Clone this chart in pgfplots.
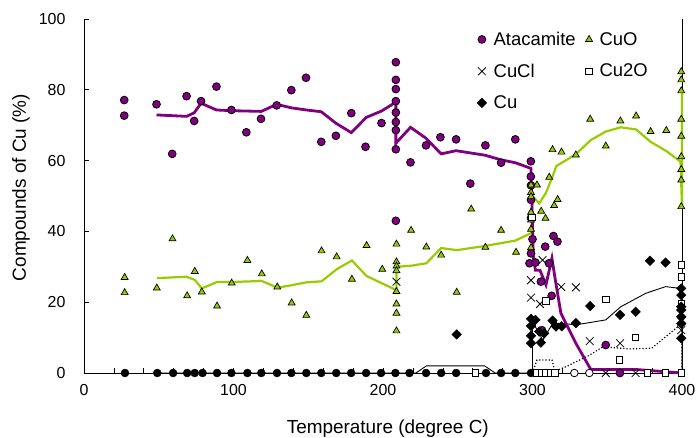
\documentclass[border=0pt]{standalone}
\usepackage{fontspec}
\setmainfont{Liberation Sans}
\usepackage{pgfplots}
\pgfplotsset{compat=1.18}
\definecolor{atac}{HTML}{800080}
\definecolor{cuo}{HTML}{99CC00}
\begin{document}
\begin{tikzpicture}
\path[use as bounding box] (-84bp,-65bp) rectangle (615bp,373bp);
\begin{axis}[
  at={(0,0)}, anchor=south west, scale only axis,
  width=598bp, height=354bp,
  xmin=0, xmax=400, ymin=0, ymax=100,
  axis lines*=left, axis line style={black, line width=0.8bp},
  clip=false,
  xtick={0,100,...,400}, minor xtick={20,40,...,380},
  ytick={0,20,...,100},
  tick align=inside, major tick length=5bp, minor tick length=5bp,
  tick style={black, line width=0.6bp},
  ticklabel style={font=\fontsize{16}{19}\selectfont},
  /pgf/number format/assume math mode=true,
  xticklabel style={yshift=-8bp},
  yticklabel style={xshift=-15bp},
  ylabel={Compounds of Cu (\%)},
  every axis y label/.style={at={(axis description cs:-0.1054,0.524)}, anchor=center, rotate=90, font=\fontsize{19}{22}\selectfont},
  legend columns=2,
  legend cell align=left,
  legend style={at={(axis cs:260.8,97.5)}, anchor=north west, draw=none, fill=none,
    font=\fontsize{18.5}{21}\selectfont, row sep=13bp,
    /tikz/every odd column/.append style={column sep=5bp},
    /tikz/every even column/.append style={column sep=8bp}},
  legend image code/.code={\draw[#1] plot coordinates {(0bp,0bp)};},
]
% zero-row markers (not in legend)
\addplot[only marks, mark=*, mark size=4bp, black, forget plot] coordinates {
(27.4,0)(49,0)(59.6,0)(69,0)(74.1,0)(79.3,0)(89,0)(98.6,0)(109.3,0)(118.6,0)(129.1,0)(138.7,0)(148.7,0)(158.7,0)(168.7,0)(178.7,0)(188.7,0)(198.7,0)(208.3,0)(217.7,0)(228.8,0)(238.9,0)(248.9,0)(268.9,0)(279,0)(288.5,0)(299,0)(309,0)};
\addplot[only marks, mark=*, mark size=3.8bp, mark options={fill=white, draw=black, line width=0.8bp}, forget plot] coordinates {(328,0)(338,0)};
% Atacamite
\addplot[only marks, mark=*, mark size=3.9bp, mark options={fill=atac, draw=black, line width=0.8bp}] coordinates {
(26.9,77.1)(26.9,72.7)(48.5,75.9)(59,61.9)(68.6,78.2)(73.7,71.2)(78.3,76.8)(88.6,80.9)(98.6,74.3)(108.6,68)(118.4,71.8)(128.9,75.6)(138.7,79.9)(148.5,83.4)(158.7,65.3)(168.5,67)(178.8,73.4)(188.3,63.9)(199,70.6)
(208.6,87.8)(208.6,82.8)(208.6,80.2)(208.6,76.8)(208.6,73.6)(208.6,70.9)(208.6,68.6)(208.6,63.2)(208.6,43.0)
(218.4,59.5)(228.8,64.3)(238.4,66.6)(248.9,66)(258.4,53.5)(268.5,64.3)(279,59.4)(288.5,66)(298.9,59.8)(298.9,55.5)(299,53)(299,48.9)(299,43.8)(300,37.8)(299,33.8)(298,31)(302,31.2)(311,31)(305.6,25.8)(312.8,21.8)(306.3,12.1)(308.5,35.7)(314,38.7)(316.7,37.1)(349,7.9)(358.5,0)};
\addlegendentry{Atacamite}
% CuO
\addplot[only marks, mark=triangle*, mark size=4bp, mark options={fill=cuo, draw=black, line width=0.7bp}] coordinates {
(27.2,27)(27.2,22.7)(48.7,24)(59.2,37.9)(69,21.8)(74.1,28.7)(78.8,22.9)(89,18.9)(98.8,25.4)(109.3,31.8)(118.9,28)(129.3,24.3)(138.9,19.8)(148.7,16.3)(158.9,34.5)(169,32.8)(179.2,26.5)(189,36)(199.5,29.3)
(209,36.4)(209,31.4)(209,30.2)(209,28.9)(209,23)(209,19.5)(209,16.9)(209,11.9)
(218.8,40.3)(229,35.6)(238.9,33.3)(249.3,22.8)(259,46.3)(268.5,35.5)(279,40.3)(289,34.1)
(299,53.1)(299,51)(299,49.8)(299,45.4)(299,43.2)(299,40.6)(299,35.4)(303,53.1)(305.8,45.7)(308.7,43.7)(311.2,55.3)(314.5,47.3)(316.8,49)(313.4,63.1)(319.4,62.4)(329,61.6)(338.6,71.7)(349,64.1)(358.8,71.2)(369.3,72.6)(379,68.2)(389.5,68.5)
(399.5,85.1)(399.5,82.8)(399.5,79.7)(399.5,71.7)(399.5,66.9)(399.5,61.1)(399.5,57.5)(399.5,54.5)(399.5,47)};
\addlegendentry{CuO}
% CuCl
\addplot[only marks, mark=x, mark size=5.5bp, mark options={draw=black, line width=0.8bp}] coordinates {
(209,25.8)(299,26.2)(299,21.3)(305,19.5)(306.7,31.9)(319.2,24.3)(329,24.2)(338.3,9)(358.6,8.4)(399.5,12.1)(399.5,14.5)(349,0)(369,0)};
\addlegendentry{CuCl}
% Cu2O
\addplot[only marks, mark=square*, mark size=3.2bp, mark options={fill=white, draw=black, line width=0.8bp}] coordinates {
(299.5,44)(309,20.4)(349,20.8)(369,10.1)(358.3,3.7)(399.5,30.5)(399.5,27.2)(399.5,19.7)(261.8,0)(303,0)(306,0)(309,0)(312,0)(315,0)(377,0)(389,0)(399.5,0)};
\addlegendentry{Cu2O}
% Cu
\addplot[only marks, mark=square*, mark size=3.4bp, mark options={fill=black, draw=black, rotate=45}] coordinates {
(249.3,10.9)(378.6,31.7)(389,31.2)(338.6,18.9)(358.6,16.4)(369,17.3)(329,14.1)(319.5,13.2)(313.4,14.8)(315.7,13.1)(299,15.3)(299,13.3)(299,10.5)(299,8.4)(302,15)(304.5,11.7)(305.6,8.6)(307.8,11.2)(399.5,23.9)(399.5,22)(399.5,18.7)(399.5,17.8)(399.5,15.9)(399.5,14)(399.5,9.8)};
\addlegendentry{Cu}
% lines
\addplot[black, line width=0.8bp, forget plot] coordinates {(400,0)(400,100)};
\addplot[black, line width=0.9bp, forget plot] coordinates {
(48,0)(222,0)(229,2)(268,2)(275,0)(300,0)(300,15.5)(302,13)(307,9.3)(313.4,14)(320,14)(329,13.6)(349,15)(359,18.7)(375.7,22.5)(389,24.4)(399,23.9)(400,24)(400,0)};
\addplot[black, line width=1.2bp, dotted, forget plot] coordinates {
(300,0)(303,3.7)(313,3.7)(315,0.5)(322.5,1.8)(338,5)(347,7.4)(364.6,6.8)(379.7,7)(387,9.5)(397,13)(400,13)(400,0)};
\addplot[cuo, line width=2.2bp, forget plot] coordinates {
(48.7,26.8)(68.6,27.2)(74.1,26.3)(78.8,23.9)(89,25.7)(98.8,25.7)(118.9,26)(129.3,24.1)(138.9,24.8)(148.7,25.6)(158.9,25.9)(169,29.3)(179.2,31.8)(189,27.4)(199.5,25.3)(209,23.4)(209,30)(218.8,30.3)(229,31)(238.9,35.3)(249.3,34.7)(268.5,35.9)(288.5,37.4)(299,39.5)(300,50)(304.5,47.9)(309,50.9)(313.4,55.5)(316,58.5)(320,59.5)(329,61.8)(339,65.8)(349,68.2)(359,69.4)(369.3,68.8)(379,65.3)(389.5,62.7)(399,59.7)(400,47)(400,80)};
\addplot[atac, line width=2.8bp, forget plot] coordinates {
(48.5,72.9)(68.6,72.5)(73.7,73.5)(78.3,76.2)(88.6,74.3)(98.6,74.1)(118.6,73.9)(128.9,75.9)(138.7,74.9)(148.7,74.3)(158.7,73.8)(168.7,70.5)(178.8,67.9)(188.8,72.2)(199,74)(208.6,76.5)(208.6,64.9)(218.4,69.4)(228.8,66.3)(238.9,61.9)(248.9,62.8)(268.5,61.5)(279,60.2)(288.5,59.4)(299,57.8)(300.5,33)(302,29)(305,29)(309,24.9)(313,32.4)(315,27)(319,16.9)(329,8.4)(339,1)(369,1)(400,0)};
\node[font=\fontsize{19}{22}\selectfont, anchor=center] at (axis description cs:0.508,-0.157) {Temperature (degree C)};
\end{axis}
\end{tikzpicture}
\end{document}
